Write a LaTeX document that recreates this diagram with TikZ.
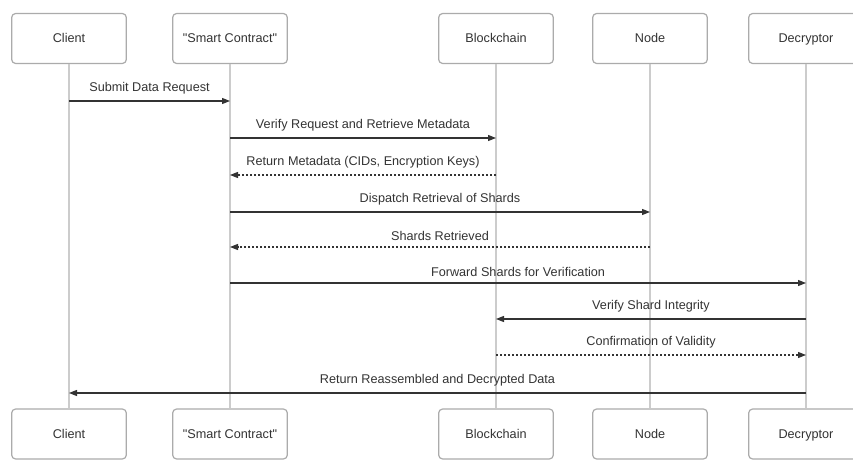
\documentclass[tikz,border=0pt]{standalone}
\usepackage{fontspec}
\setmainfont{Liberation Sans}
\usetikzlibrary{arrows.meta}

\definecolor{lifegray}{HTML}{CCCCCC}
\definecolor{boxgray}{HTML}{ABABAB}
\definecolor{inkgray}{HTML}{333333}

\tikzset{
  actor/.style={draw=boxgray, line width=0.9pt, rounded corners=3pt, fill=white,
    minimum width=86pt, minimum height=37.5pt, text=inkgray, text height=8pt, text depth=2pt,
    font=\fontsize{9.5}{11}\selectfont},
  lifeline/.style={draw=lifegray, line width=1.1pt},
  msg/.style={draw=inkgray, line width=0.9pt, -{Triangle[length=6pt,width=4.5pt]}},
  reply/.style={msg, dash pattern=on 1.5pt off 1.5pt},
  msglabel/.style={above=1.2pt, text=inkgray, font=\fontsize{9.5}{11}\selectfont}
}

\begin{document}
\begin{tikzpicture}[x=0.75pt, y=-0.75pt]
  \useasboundingbox (0,0) rectangle (853,460);

  % Participants, top and bottom
  \foreach \x/\n/\t in {69/client/Client, 230/smart/\textquotedbl Smart Contract\textquotedbl,
                        496/chain/Blockchain, 650/peer/Node, 806/decr/Decryptor} {
    \node[actor] (\n top) at (\x, 38.5) {\t};
    \node[actor] (\n bot) at (\x, 434) {\t};
    \draw[lifeline] (\n top) -- (\n bot);
  }

  % Messages
  \foreach \y/\a/\b/\s/\t in {101/client/smart/msg/Submit Data Request,
      138/smart/chain/msg/Verify Request and Retrieve Metadata,
      175/chain/smart/reply/{Return Metadata (CIDs, Encryption Keys)},
      212/smart/peer/msg/Dispatch Retrieval of Shards,
      247/peer/smart/reply/Shards Retrieved,
      283/smart/decr/msg/Forward Shards for Verification,
      319/decr/chain/msg/Verify Shard Integrity,
      355/chain/decr/reply/Confirmation of Validity,
      393/decr/client/msg/Return Reassembled and Decrypted Data} {
    \draw[\s] (\a top |- 0,\y) -- (\b top |- 0,\y) node[msglabel, midway] {\t};
  }
\end{tikzpicture}
\end{document}
